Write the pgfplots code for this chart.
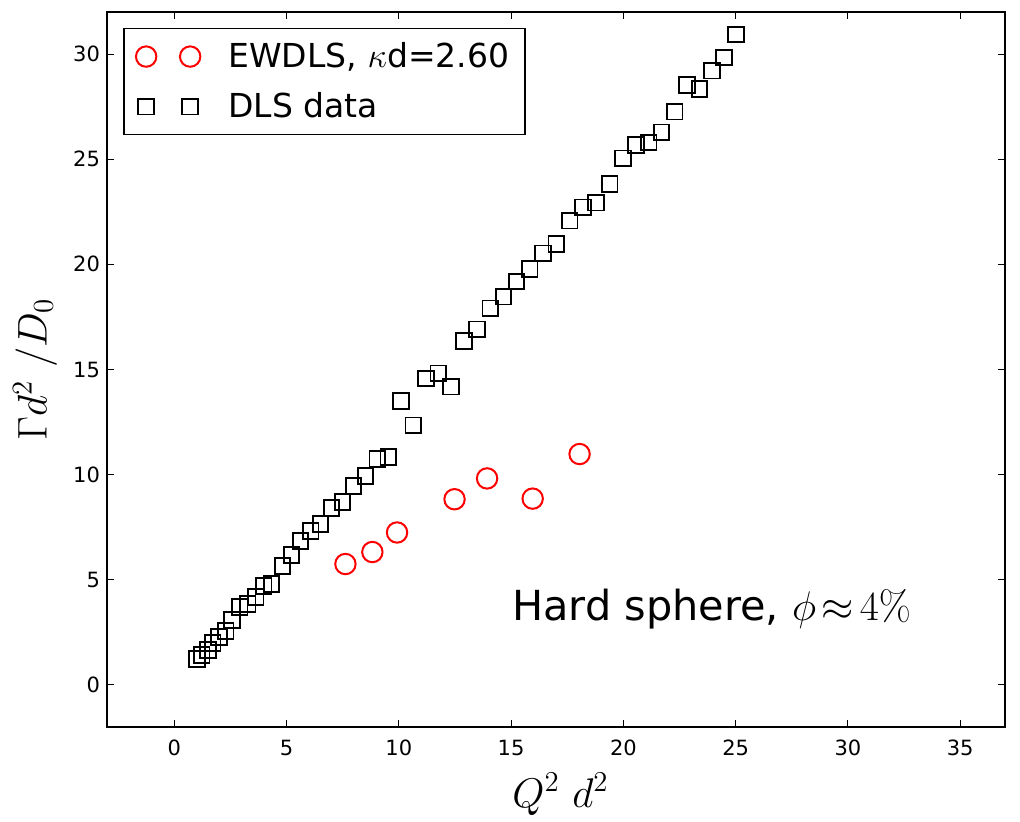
\documentclass[border=0pt]{standalone}
\usepackage{pgfplots}
\pgfplotsset{compat=1.18}
\usepackage[no-math]{fontspec}
\setmainfont{DejaVu Sans}

% two marks per legend entry, as matplotlib draws them
\pgfplotsset{
  twomarks/.style={only marks,
    legend image code/.code={\draw[##1,only marks] plot coordinates {(0pt,0pt) (22pt,0pt)};}},
}

\begin{document}
\begin{tikzpicture}
\begin{axis}[
  scale only axis, width=449pt, height=357.5pt,
  xmin=-3, xmax=37, ymin=-2, ymax=32,
  xtick={0,5,...,35}, ytick={0,5,...,30},
  tick align=inside, tick pos=both,
  major tick length=3.5pt,
  every tick/.style={black, line width=0.5pt},
  axis line style={line width=0.9pt},
  ticklabel style={font=\fontsize{10.5}{12}\selectfont},
  /pgf/number format/assume math mode=true,
  xticklabel style={yshift=-3pt},
  xlabel={$Q^2\ d^2$}, ylabel={$\Gamma d^2\ /D_0$},
  every axis x label/.style={at={(axis description cs:0.505,-0.1119)}, anchor=base,
    font=\fontsize{20}{23}\selectfont},
  every axis y label/.style={at={(axis description cs:-0.0802,0.5)}, rotate=90, anchor=center,
    font=\fontsize{20}{23}\selectfont},
  legend style={at={(0.018,0.978)}, anchor=north west, draw=black, line width=0.8pt,
    font=\fontsize{16.5}{19}\selectfont, inner xsep=6pt, inner ysep=5pt,
    nodes={inner sep=2pt}, row sep=7pt,
    /tikz/every odd column/.append style={column sep=12pt}},
  legend cell align=left,
  clip=false,
]
\addplot[twomarks, mark=o, red, mark size=5.1pt, line width=1pt] coordinates {
  (7.62,5.75) (8.82,6.32) (9.92,7.25) (12.48,8.83)
  (13.93,9.82) (15.96,8.86) (18.05,10.98)
};
\addlegendentry{EWDLS, $\kappa$d=2.60}
\addplot[twomarks, mark=square, black, mark size=3.9pt, line width=0.9pt] coordinates {
  (1.00,1.24) (1.22,1.43) (1.49,1.66) (1.71,2.00) (1.98,2.28)
  (2.29,2.57) (2.56,3.09) (2.91,3.71) (3.27,3.85) (3.62,4.18)
  (3.98,4.71) (4.33,4.80) (4.82,5.66) (5.22,6.18) (5.62,6.85)
  (6.07,7.32) (6.51,7.66) (7.00,8.42) (7.49,8.70) (7.98,9.46)
  (8.51,9.94) (9.04,10.75) (9.53,10.84) (10.10,13.50) (10.64,12.35)
  (11.21,14.57) (11.76,14.82) (12.32,14.18) (12.91,16.35) (13.48,16.91)
  (14.07,17.91) (14.66,18.46) (15.24,19.18) (15.83,19.77) (16.42,20.53)
  (17.01,20.97) (17.61,22.08) (18.20,22.71) (18.79,22.93) (19.39,23.82)
  (19.98,25.04) (20.57,25.68) (21.13,25.79) (21.70,26.28) (22.29,27.26)
  (22.84,28.53) (23.39,28.33) (23.95,29.21) (24.48,29.84) (25.01,30.93)
};
\addlegendentry{DLS data}
\node[anchor=base west, font=\fontsize{20.7}{24}\selectfont, inner sep=0pt]
  at (axis cs:15.04,3.05) {Hard sphere, $\phi\mkern2.5mu{\approx}\mkern2.5mu4\%$};
\end{axis}
\path (current axis.south west) ++(-53.5pt,-43.5pt) rectangle ++(510pt,407pt);
\end{tikzpicture}
\end{document}
